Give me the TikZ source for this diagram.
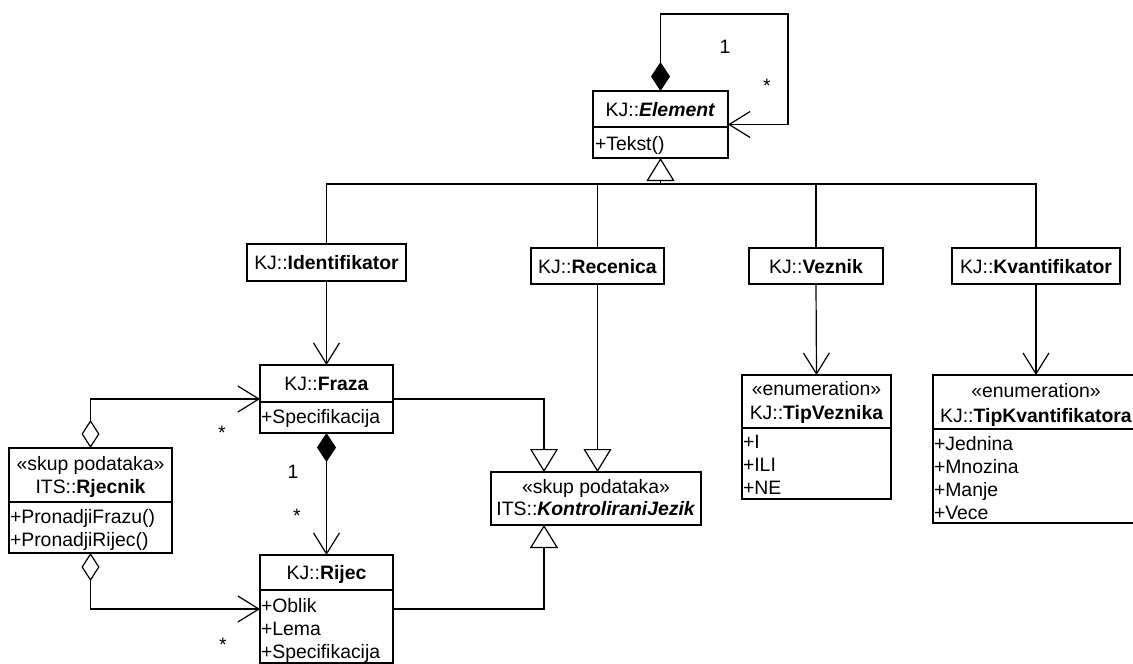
\documentclass[tikz,border=0pt]{standalone}
\usepackage{fontspec}
\setmainfont{Liberation Sans}
\usetikzlibrary{arrows.meta}
\newcommand\umlfont{\fontsize{19.4}{23}\selectfont}
\begin{document}
\begin{tikzpicture}[x=1pt,y=-1pt,
  box/.style={draw, line width=1.8pt, inner sep=0pt, outer sep=0pt},
  sepline/.style={line width=1.8pt},
  txt/.style={inner sep=0pt, outer sep=0pt, font=\umlfont, anchor=base},
  itm/.style={inner sep=0pt, outer sep=0pt, font=\umlfont, anchor=base west},
  con/.style={line width=1.2pt},
  nav/.style={con, -{Straight Barb[length=21pt,width=26pt]}},
  gen/.style={con, -{Triangle[open,length=23pt,width=28pt]}},
  compnav/.style={con, {Diamond[length=29pt,width=19pt]}-{Straight Barb[length=21pt,width=26pt]}},
  aggnav/.style={con, {Diamond[open,length=28pt,width=18pt]}-{Straight Barb[length=21pt,width=26pt]}}
]
\useasboundingbox (0,0) rectangle (1133,664);

% ---- boxes ----
\node[box, minimum width=135pt, minimum height=67pt] (el) at (660.5,124.5) {};
\draw[sepline] (el.west |- 0,127) -- (el.east |- 0,127);
\node[txt] (elt) at (660.5,116) {KJ::\textbf{\textit{Element}}};
\node[itm] (ela) at (595,150) {+Tekst()};

\node[box, minimum width=159pt, minimum height=37pt] (ident) at (326.5,262.5) {};
\node[txt] (identt) at (326.5,269.5) {KJ::\textbf{Identifikator}};

\node[box, minimum width=133pt, minimum height=36pt] (rec) at (597.5,266) {};
\node[txt] (rect) at (597.5,273) {KJ::\textbf{Recenica}};

\node[box, minimum width=134pt, minimum height=36pt] (vez) at (816,266) {};
\node[txt] (vezt) at (816,273) {KJ::\textbf{Veznik}};

\node[box, minimum width=168pt, minimum height=36pt] (kvant) at (1036,266) {};
\node[txt] (kvantt) at (1036,273) {KJ::\textbf{Kvantifikator}};

\node[box, minimum width=149pt, minimum height=124pt] (tipv) at (816.5,437) {};
\draw[sepline] (tipv.west |- 0,428) -- (tipv.east |- 0,428);
\node[txt] (tipvs) at (816.5,395) {«enumeration»};
\node[txt] (tipvt) at (816.5,419) {KJ::\textbf{TipVeznika}};
\node[itm] (tipv1) at (743,448) {+I};
\node[itm] (tipv2) at (743,471) {+ILI};
\node[itm] (tipv3) at (743,494) {+NE};

\node[box, minimum width=206pt, minimum height=148pt] (tipk) at (1036,449) {};
\draw[sepline] (tipk.west |- 0,429) -- (tipk.east |- 0,429);
\node[txt] (tipks) at (1036,397) {«enumeration»};
\node[txt] (tipkt) at (1036,422) {KJ::\textbf{TipKvantifikatora}};
\node[itm] (tipk1) at (934,450) {+Jednina};
\node[itm] (tipk2) at (934,473) {+Mnozina};
\node[itm] (tipk3) at (934,496) {+Manje};
\node[itm] (tipk4) at (934,519) {+Vece};

\node[box, minimum width=133pt, minimum height=68pt] (fraza) at (326.5,399) {};
\draw[sepline] (fraza.west |- 0,402) -- (fraza.east |- 0,402);
\node[txt] (frazat) at (326.5,390) {KJ::\textbf{Fraza}};
\node[itm] (fraza1) at (261,423) {+Specifikacija};

\node[box, minimum width=133pt, minimum height=108pt] (rijec) at (326.5,609) {};
\draw[sepline] (rijec.west |- 0,590) -- (rijec.east |- 0,590);
\node[txt] (riject) at (326.5,579) {KJ::\textbf{Rijec}};
\node[itm] (rijec1) at (261,612) {+Oblik};
\node[itm] (rijec2) at (261,635) {+Lema};
\node[itm] (rijec3) at (261,658) {+Specifikacija};

\node[box, minimum width=163pt, minimum height=105pt] (rjec) at (90.5,500.5) {};
\draw[sepline] (rjec.west |- 0,502) -- (rjec.east |- 0,502);
\node[txt] (rjecs) at (90.5,470) {«skup podataka»};
\node[txt] (rject) at (90.5,493) {ITS::\textbf{Rjecnik}};
\node[itm] (rjec1) at (10,523) {+PronadjiFrazu()};
\node[itm] (rjec2) at (10,546) {+PronadjiRijec()};

\node[box, minimum width=210pt, minimum height=53pt] (kj) at (596,498.5) {};
\node[txt] (kjs) at (596,493) {«skup podataka»};
\node[txt] (kjt) at (596,515) {ITS::\textbf{\textit{KontroliraniJezik}}};

% ---- connectors ----
\coordinate (loopa) at (788,14);
\draw[compnav] (el.north) |- (loopa) |- (el.east);
\node[txt] (l1) at (725,53) {1};
\node[txt] (l2) at (767,92) {*};

\coordinate (bus) at (660.5,184);
\draw[gen] (bus) -- (el.south);
\draw[con] (ident.north) |- (kvant.north |- bus) -- (kvant.north);
\draw[con] (rec.north) -- (rec.north |- bus);
\draw[con] (vez.north) -- (vez.north |- bus);

\draw[nav] (ident.south) -- (fraza.north);
\draw[nav] (vez.south) -- (tipv.north);
\draw[nav] (kvant.south) -- (tipk.north);

\draw[compnav] (fraza.south) -- (rijec.north);
\node[txt] (l3) at (293,478) {1};
\node[txt] (l4) at (297,522) {*};

\draw[aggnav] (rjec.north) |- (fraza.west);
\node[txt] (l5) at (222,439) {*};
\draw[aggnav] (rjec.south) |- (rijec.west);
\node[txt] (l6) at (223,651) {*};

\draw[gen] (fraza.east) -| ([xshift=-52pt]kj.north);
\draw[gen] (rec.south) -- (rec.south |- kj.north);
\draw[gen] (rijec.east) -| ([xshift=-52pt]kj.south);
\end{tikzpicture}
\end{document}
